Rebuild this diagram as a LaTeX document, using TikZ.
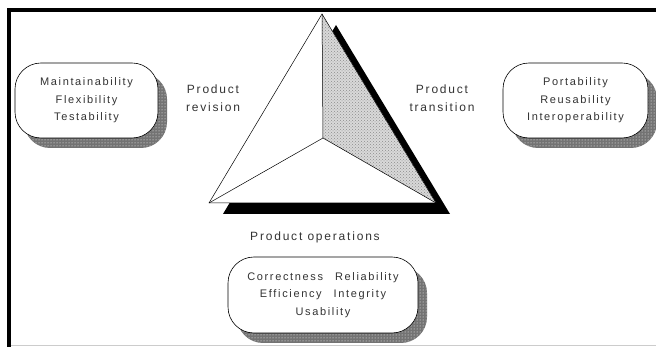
\documentclass[tikz,border=0pt]{standalone}
\usepackage{fontspec}
\setmainfont{Liberation Sans}[LetterSpace=15]
\usetikzlibrary{patterns,shadows}

\tikzset{
  quality/.style={draw, line width=0.6pt, rounded corners=26pt, fill=white, align=center,
    text=black!80, font=\fontsize{11}{17.5}\selectfont,
    general shadow={fill=black!55, shadow xshift=9pt, shadow yshift=-10pt},
    general shadow={pattern=dots, pattern color=white, shadow xshift=9pt, shadow yshift=-10pt}},
  factor/.style={align=center, text=black!80, font=\fontsize{12}{18}\selectfont},
}

\begin{document}
\begin{tikzpicture}[x=1pt, y=-1pt]
    \useasboundingbox (0,0) rectangle (656,347);
    % frame
    \draw[line width=4pt] (9,347) -- (9,10) -- (656,10);
    \draw[black!20, line width=1.5pt] (11,345.5) -- (656,345.5);

    % the triangle
    \coordinate (top) at (322,14);
    \coordinate (left) at (209,203);
    \coordinate (right) at (436,203);
    \coordinate (mid) at (323,138);
    \fill[black] ([shift={(14,11)}]top) -- ([shift={(14,11)}]left) -- ([shift={(14,11)}]right) -- cycle;
    \fill[white] (top) -- (left) -- (right) -- cycle;
    \fill[black!15] (top) -- (mid) -- (right) -- cycle;
    \fill[pattern=crosshatch dots, pattern color=black!45] (top) -- (mid) -- (right) -- cycle;
    \draw[line width=0.5pt] (top) -- (left) -- (right) -- cycle;
    \draw[line width=0.5pt] (top) -- (mid) (left) -- (mid) -- (right);

    \node[factor] (revision) at (213,98) {Product\\revision};
    \node[factor] (transition) at (442,98) {Product\\transition};
    \node[factor] (operations) at (315,237) {Product operations};

    % quality factors
    \node[quality, minimum width=143pt, minimum height=75pt] (revbox) at (86.5,100.5)
        {Maintainability\\Flexibility\\Testability};
    \node[quality, minimum width=145pt, minimum height=75pt] (transbox) at (575.5,100.5)
        {Portability\\Reusability\\Interoperability};
    \node[quality, minimum width=190pt, minimum height=76pt] (opbox) at (323,295)
        {Correctness\hspace{12pt}Reliability\\Efficiency\hspace{12pt}Integrity\\Usability};
\end{tikzpicture}
\end{document}
